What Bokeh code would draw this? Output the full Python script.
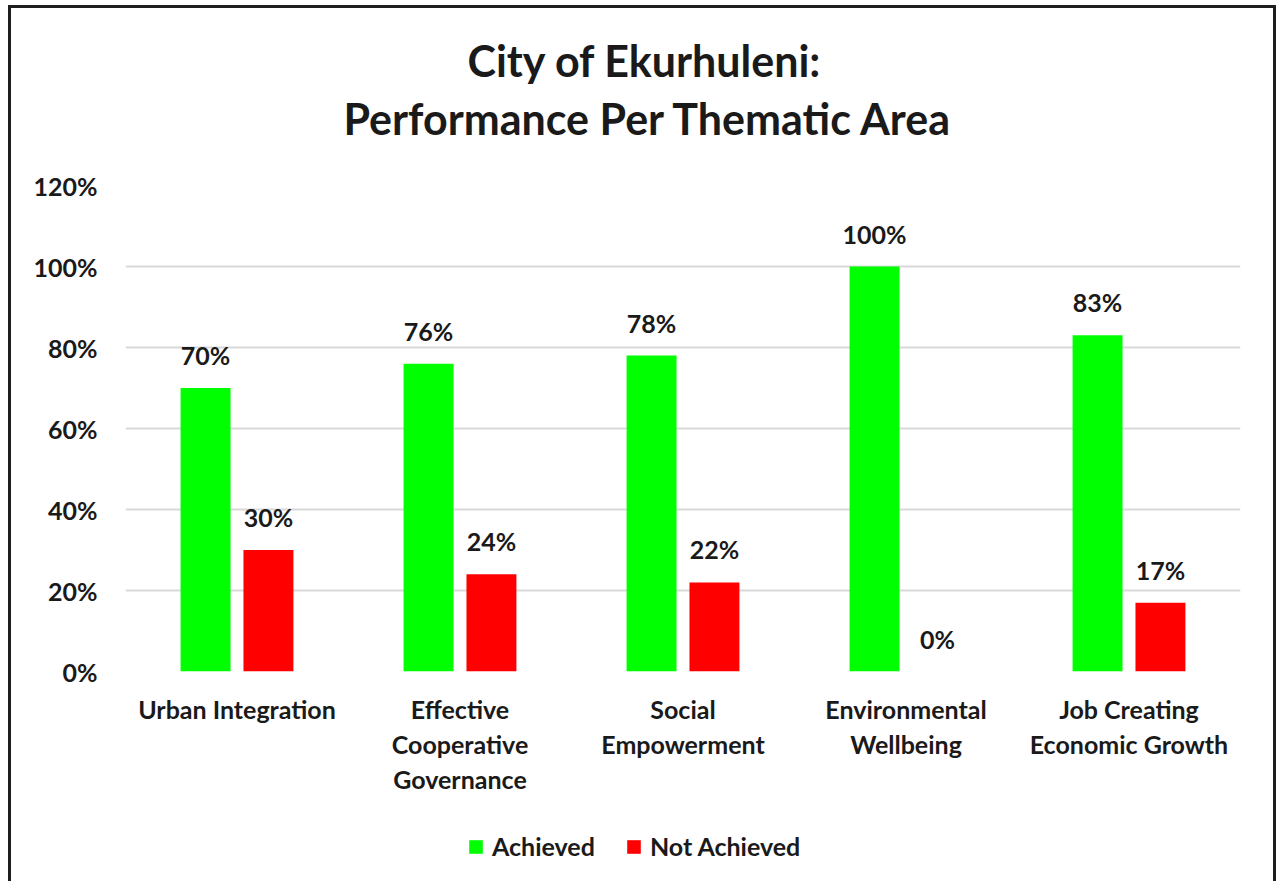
from bokeh.plotting import figure
from bokeh.models import (ColumnDataSource, FactorRange, Range1d, Title, Legend,
                          LegendItem, NumeralTickFormatter, FixedTicker)
from bokeh.transform import dodge
from bokeh.core.properties import value
from bokeh.embed import file_html
from bokeh.resources import INLINE

categories = ["Urban Integration", "Effective\nCooperative\nGovernance",
              "Social\nEmpowerment", "Environmental\nWellbeing",
              "Job Creating\nEconomic Growth"]
achieved = [70, 76, 78, 100, 83]
not_achieved = [30, 24, 22, 0, 17]
y_ticks = [0, 20, 40, 60, 80, 100, 120]
title_lines = ["City of Ekurhuleni:", "Performance Per Thematic Area"]
series_names = ["Achieved", "Not Achieved"]

FONT = value("Lato")
GREEN = "#00FF00"
RED = "#FF0000"
INK = "#1a1a1a"
EDGE = "3px solid #1e1e1e"

src = ColumnDataSource(dict(
    cat=categories,
    ach=[v / 100 for v in achieved],
    nach=[v / 100 for v in not_achieved],
    ach_lbl=[f"{v}%" for v in achieved],
    nach_lbl=[f"{v}%" for v in not_achieved],
))

p = figure(x_range=FactorRange(*categories, range_padding=0),
           y_range=Range1d(0, 1.2),
           frame_width=1115, frame_height=486,
           min_border_left=114, min_border_right=33,
           min_border_top=177, min_border_bottom=150,
           output_backend="svg", toolbar_location=None)
p.styles = {"border": EDGE, "border-bottom": "none",
            "margin-left": "8px", "margin-top": "5px", "margin-bottom": "-80px"}
p.outline_line_color = None
p.background_fill_color = "white"
p.border_fill_color = "white"

bw = 0.224
off = 0.141
p.vbar(x=dodge("cat", -off, range=p.x_range), top="ach", width=bw, source=src,
       fill_color=GREEN, line_color=None)
p.vbar(x=dodge("cat", off, range=p.x_range), top="nach", width=bw, source=src,
       fill_color=RED, line_color=None)

for col, lbl, o in (("ach", "ach_lbl", -off), ("nach", "nach_lbl", off)):
    p.text(x=dodge("cat", o, range=p.x_range), y=col, text=lbl, source=src,
           text_align="center", text_baseline="alphabetic", y_offset=-33,
           text_font=FONT, text_font_style="bold", text_font_size="25px",
           text_color=INK)

# axes
p.yaxis.ticker = FixedTicker(ticks=[t / 100 for t in y_ticks])
p.yaxis.formatter = NumeralTickFormatter(format="0%")
p.yaxis.axis_line_color = None
p.yaxis.major_tick_line_color = None
p.yaxis.minor_tick_line_color = None
p.yaxis.major_label_standoff = 22
p.xaxis.axis_line_color = None
p.xaxis.major_tick_line_color = None
p.xaxis.major_label_standoff = 16
p.xaxis.major_label_text_line_height = 1.17
for ax in (p.xaxis, p.yaxis):
    ax.major_label_text_font = "Lato"
    ax.major_label_text_font_style = "bold"
    ax.major_label_text_font_size = "25px"
    ax.major_label_text_color = INK

p.xgrid.grid_line_color = None
p.ygrid.ticker = FixedTicker(ticks=[t / 100 for t in y_ticks])
p.ygrid.grid_line_color = "#d9d9d9"
p.ygrid.grid_line_width = 2

# title lines (added nearest-first), left-aligned with offsets to centre on canvas
p.add_layout(Title(text=title_lines[1], align="left", offset=218, standoff=84,
                   text_font="Lato", text_font_style="bold",
                   text_font_size="43px", text_color=INK), "above")
p.add_layout(Title(text=title_lines[0], align="left", offset=342, standoff=-74,
                   text_font="Lato", text_font_style="bold",
                   text_font_size="43px", text_color=INK), "above")

# legend strip below the chart; its key renderers are hidden (no marks drawn)
lf = figure(width=1268, height=70,
            x_range=FactorRange(*categories, range_padding=0),
            y_range=Range1d(0, 1.2),
            min_border=0, x_axis_location=None, y_axis_location=None,
            output_backend="svg", toolbar_location=None)
lf.styles = {"position": "absolute", "left": "8px", "top": "811px",
             "border-left": EDGE, "border-right": EDGE}
lf.outline_line_color = None
lf.background_fill_color = "white"
lf.border_fill_color = "white"
lf.grid.grid_line_color = None
k1 = lf.vbar(x=dodge("cat", -off, range=lf.x_range), top="ach", width=bw,
             source=src, fill_color=GREEN, line_color=None, visible=False)
k2 = lf.vbar(x=dodge("cat", off, range=lf.x_range), top="nach", width=bw,
             source=src, fill_color=RED, line_color=None, visible=False)

lg = Legend(items=[LegendItem(label=series_names[0], renderers=[k1]),
                   LegendItem(label=series_names[1], renderers=[k2])],
            orientation="horizontal", location=(456, 20))
lg.border_line_color = None
lg.background_fill_alpha = 0
lg.inactive_fill_alpha = 0
lg.padding = 0
lg.margin = 0
lg.spacing = 30
lg.label_standoff = 8
lg.glyph_width = 17
lg.glyph_height = 17
lg.label_text_font = "Lato"
lg.label_text_font_style = "bold"
lg.label_text_font_size = "25px"
lg.label_text_color = INK
lf.add_layout(lg)

open("out.html", "w").write(file_html([p, lf], INLINE))
